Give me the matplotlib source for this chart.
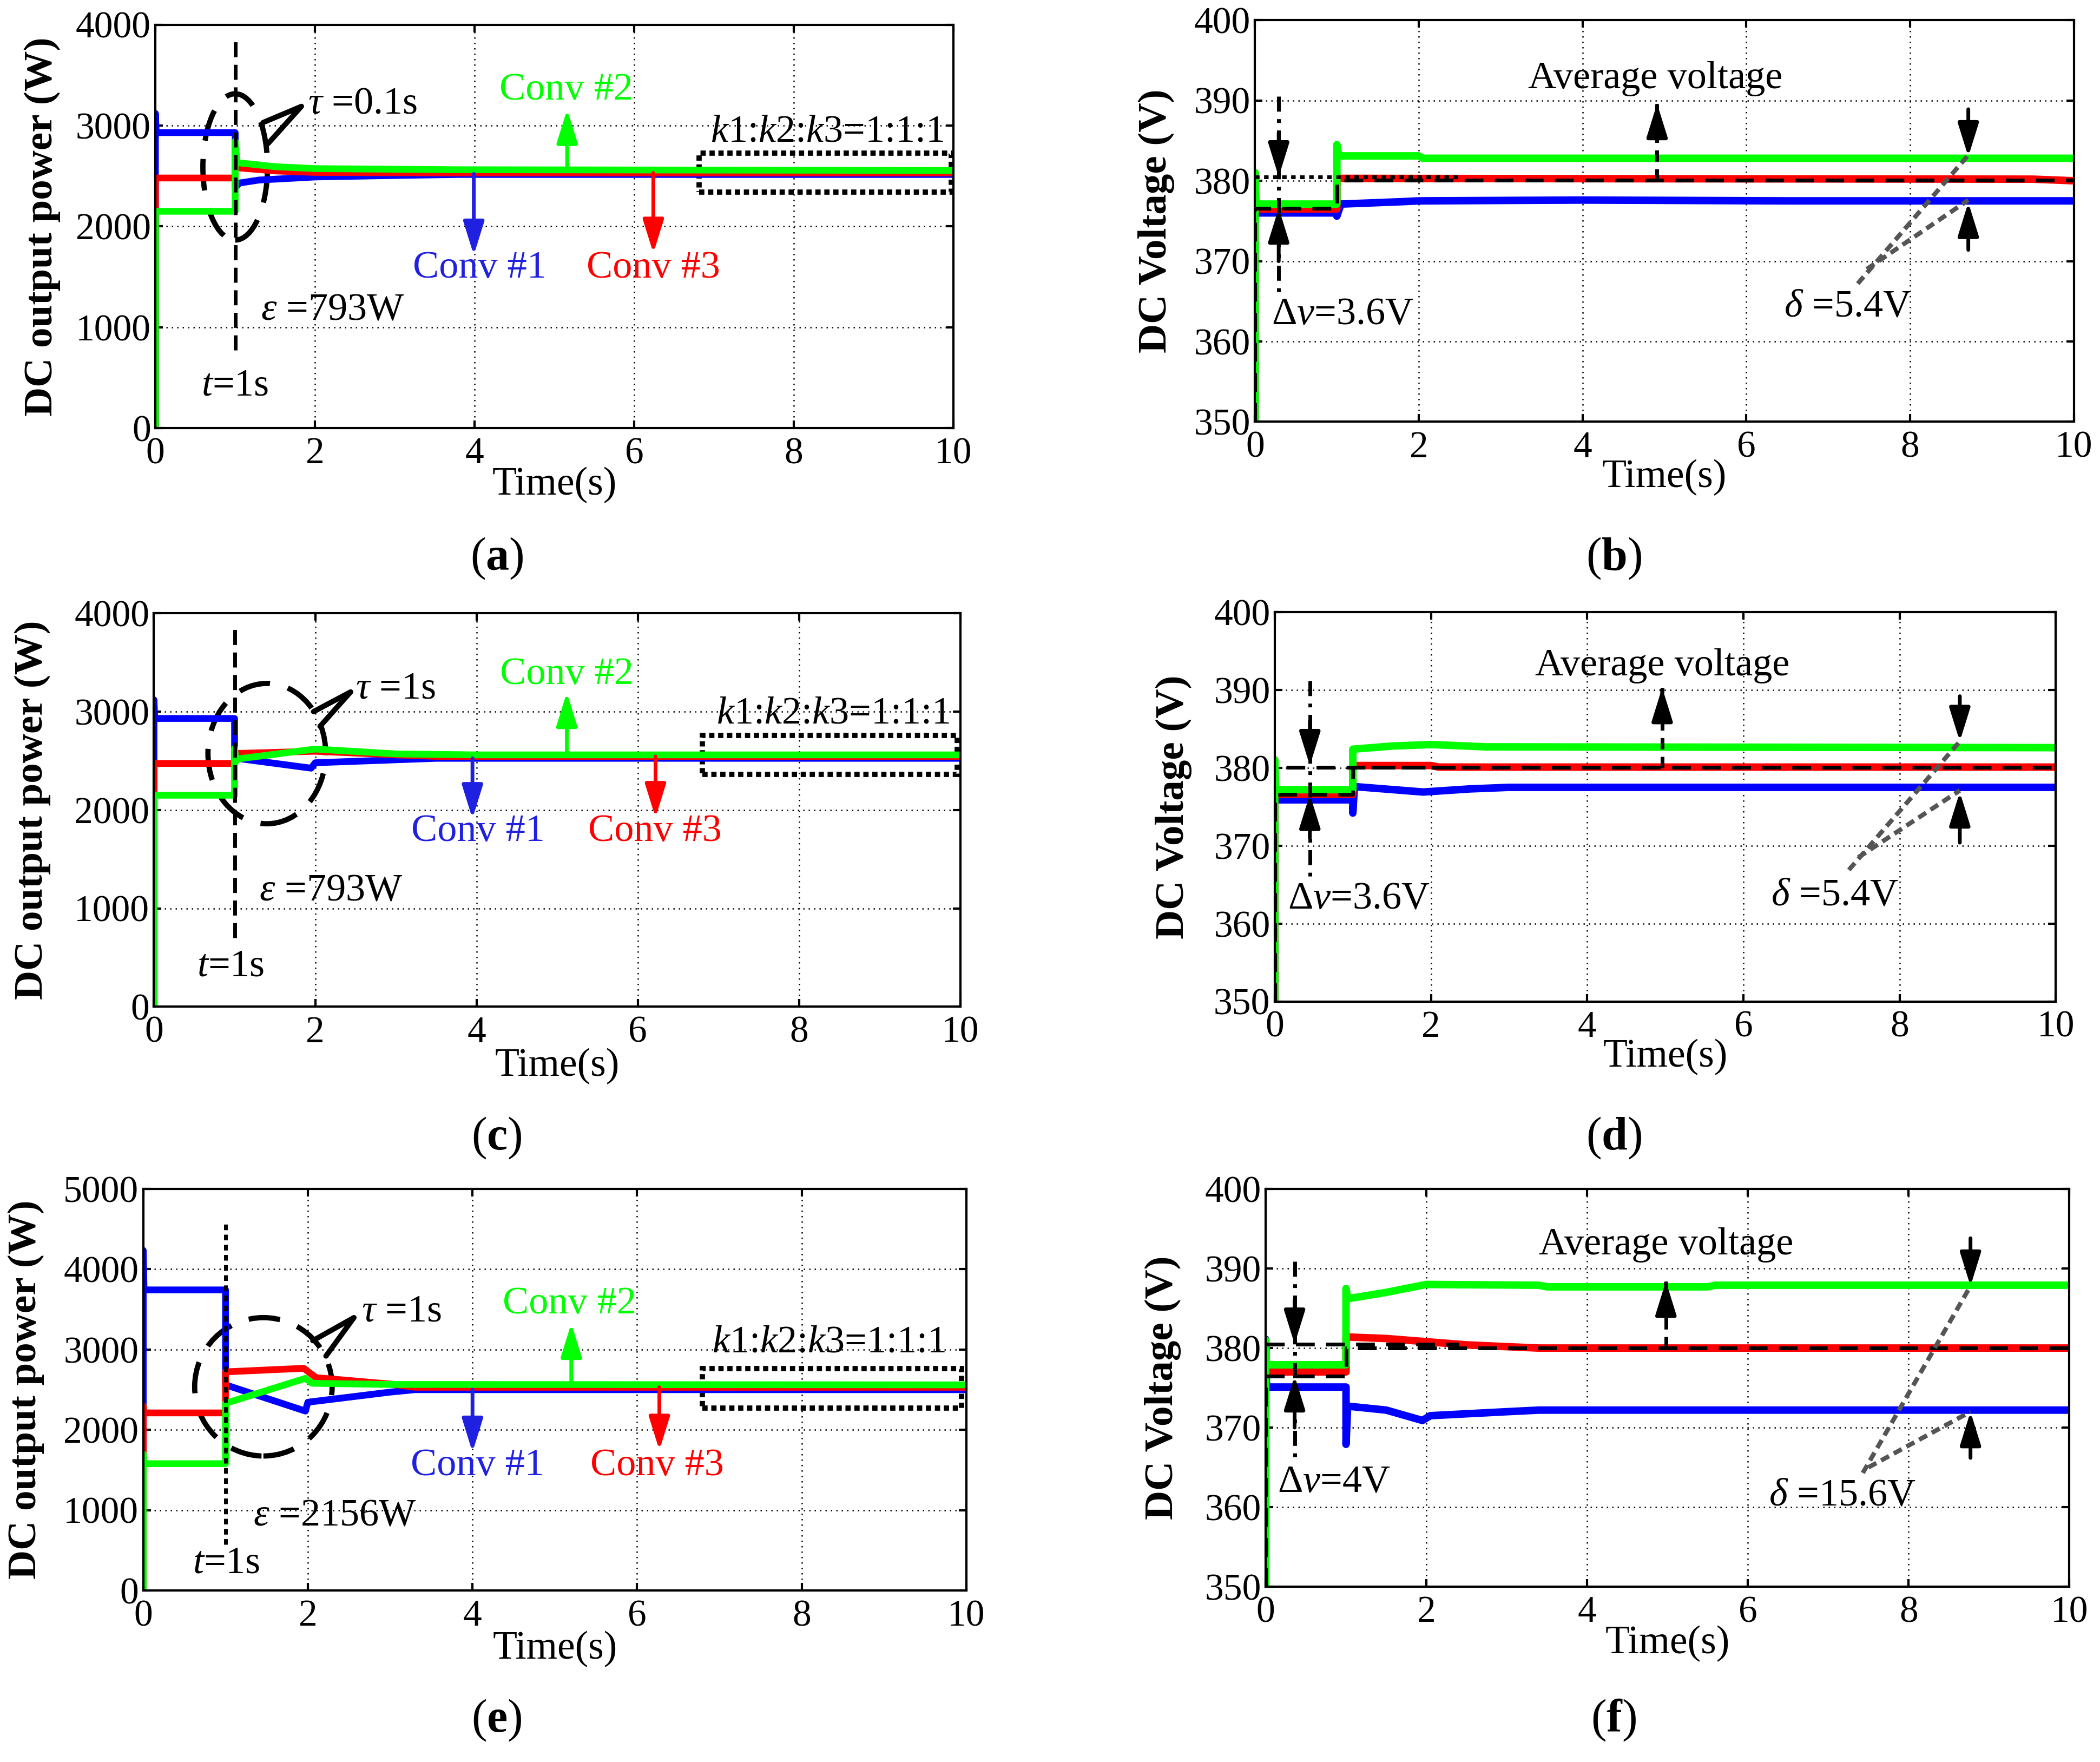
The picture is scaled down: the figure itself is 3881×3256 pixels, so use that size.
import numpy as np
import matplotlib.pyplot as plt
from matplotlib.patches import Ellipse, Rectangle

plt.rcParams['font.family'] = 'Liberation Serif'
plt.rcParams['mathtext.fontset'] = 'custom'
plt.rcParams['mathtext.rm'] = 'Liberation Serif'
plt.rcParams['mathtext.it'] = 'Liberation Serif:italic'
plt.rcParams['mathtext.bf'] = 'Liberation Serif:bold'

# ---------------- data ----------------
# (a) power, tau = 0.1 s
a_t1 = [0, 0, 0.01, 1.0, 1.0, 1.05, 1.3, 2.0, 3.0, 3.8, 10]
a_p1 = [0, 3120, 2930, 2930, 2380, 2430, 2460, 2490, 2505, 2515, 2515]
a_t3 = [0, 0, 1.0, 1.0, 1.05, 1.5, 2.0, 3.8, 10]
a_p3 = [0, 2480, 2480, 2590, 2580, 2550, 2535, 2530, 2530]
a_t2 = [0, 0, 1.0, 1.0, 1.02, 1.05, 1.5, 2.0, 3.8, 10]
a_p2 = [0, 2150, 2150, 2845, 2650, 2630, 2592, 2573, 2562, 2555]

# (c) power, tau = 1 s
c_t1 = [0, 0, 0.01, 1.0, 1.0, 1.95, 2.0, 3.0, 3.5, 10]
c_p1 = [0, 3120, 2930, 2930, 2528, 2425, 2480, 2510, 2525, 2525]
c_t3 = [0, 0, 1.0, 1.0, 1.05, 2.0, 3.0, 3.5, 10]
c_p3 = [0, 2473, 2473, 2560, 2575, 2597, 2560, 2545, 2545]
c_t2 = [0, 0, 1.0, 1.0, 1.02, 1.05, 2.0, 3.0, 4.0, 10]
c_p2 = [0, 2150, 2150, 2626, 2498, 2520, 2619, 2570, 2560, 2560]

# (e) power, tau = 1 s, larger mismatch
e_t1 = [0, 0, 0.01, 1.0, 1.0, 1.97, 2.0, 3.0, 3.3, 10]
e_p1 = [0, 4234, 3742, 3742, 2560, 2234, 2344, 2470, 2500, 2500]
e_t3 = [0, 0, 0.01, 1.0, 1.0, 1.95, 2.1, 3.0, 3.3, 10]
e_p3 = [0, 2300, 2211, 2211, 2722, 2766, 2650, 2570, 2530, 2530]
e_t2 = [0, 0, 0.01, 1.0, 1.0, 1.97, 2.05, 3.0, 10]
e_p2 = [0, 1700, 1579, 1579, 2330, 2641, 2580, 2565, 2560]

# (b) voltage
b_t1 = [0, 0, 0.01, 1.0, 1.0, 1.05, 1.8, 2.0, 4.0, 6.5, 10]
b_v1 = [350, 381, 376.0, 376.0, 375.6, 377.1, 377.4, 377.5, 377.6, 377.5, 377.5]
b_t3 = [0, 0, 0.01, 1.0, 1.0, 1.05, 9.5, 10]
b_v3 = [350, 381, 376.5, 376.5, 380.4, 380.3, 380.2, 380.0]
b_t2 = [0, 0, 0.01, 1.0, 1.0, 1.02, 1.05, 2.0, 2.05, 10]
b_v2 = [350, 381, 377.1, 377.1, 384.5, 383.3, 383.1, 383.1, 382.8, 382.8]
b_avg = [350, 376.6, 376.6, 380.1, 380.1]
b_ref = 380.5

# (d) voltage
d_t1 = [0, 0, 0.01, 1.0, 1.0, 1.02, 1.9, 2.5, 3.0, 10]
d_v1 = [350, 381, 375.9, 375.9, 374.2, 377.6, 376.9, 377.3, 377.5, 377.5]
d_t3 = [0, 0, 0.01, 1.0, 1.0, 2.0, 2.1, 10]
d_v3 = [350, 381, 376.6, 376.6, 380.3, 380.3, 380.1, 380.1]
d_t2 = [0, 0, 0.01, 1.0, 1.0, 1.5, 2.0, 2.7, 10]
d_v2 = [350, 381, 377.2, 377.2, 382.4, 382.8, 383.0, 382.7, 382.6]
d_avg = [350, 376.6, 376.6, 380.1, 380.1]
d_ref = 380.1

# (f) voltage
f_t1 = [0, 0, 0.01, 1.0, 1.0, 1.02, 1.5, 1.95, 2.05, 3.0, 3.4, 10]
f_v1 = [350, 381.1, 375.1, 375.1, 367.9, 372.7, 372.2, 370.9, 371.5, 372.0, 372.2, 372.2]
f_t3 = [0, 0, 0.01, 1.0, 1.0, 1.5, 2.0, 2.5, 3.4, 10]
f_v3 = [350, 381, 377.0, 377.0, 381.4, 381.2, 380.8, 380.4, 380.0, 380.0]
f_t2 = [0, 0, 0.01, 1.0, 1.0, 1.02, 1.5, 2.0, 3.4, 3.5, 5.5, 5.6, 10]
f_v2 = [350, 381, 377.9, 377.9, 387.5, 386.2, 387.0, 388.0, 387.9, 387.7, 387.7, 387.9, 387.9]
f_avg = [350, 376.5, 376.5, 380.0, 380.0]
f_ref = 380.5

avg_t = [0, 0, 1.0, 1.0, 10]

BLUE, RED, GREEN = '#0000ff', '#ff0000', '#00ff00'
TXT_BLUE = '#2020e0'
FS = 52

fig = plt.figure(figsize=(38.81, 32.56), dpi=100)


def style(ax, ylim, yticks, xlab_y, ylab_x, ylabel):
    ax.set_xlim(0, 10)
    ax.set_ylim(*ylim)
    ax.set_xticks(range(0, 11, 2))
    ax.set_yticks(yticks)
    ax.grid(True, color='k', lw=1.8, ls=(0, (1, 3)))
    ax.tick_params(direction='in', length=10, width=3, top=True, right=True,
                   labelsize=50)
    ax.tick_params(axis='y', pad=6)
    ax.tick_params(axis='x', pad=12)
    for s in ax.spines.values():
        s.set_linewidth(3)
    ax.set_xlabel('Time(s)', fontsize=53)
    ax.xaxis.set_label_coords(0.5, xlab_y)
    ax.set_ylabel(ylabel, fontsize=54, fontweight='bold')
    ax.yaxis.set_label_coords(ylab_x, 0.5)


def arrow(ax, x0, y0, x1, y1, color='k', lw=5):
    ax.annotate('', xy=(x1, y1), xytext=(x0, y0),
                arrowprops=dict(arrowstyle='-|>,head_length=0.9,head_width=0.28',
                                color=color, lw=lw, shrinkA=0, shrinkB=0,
                                mutation_scale=42))


def power_panel(ax, t1, p1, t3, p3, t2, p2, ann):
    ax.plot(t1, p1, color=BLUE, lw=9)
    ax.plot(t3, p3, color=RED, lw=9)
    ax.plot(t2, p2, color=GREEN, lw=9)
    # t = 1 s marker
    ax.plot([1, 1], ann['vline'], color='k', lw=5, ls=ann['vls'])
    cx, cy, w, h = ann['ell']
    ax.add_patch(Ellipse((cx, cy), w, h, fill=False, ec='k', lw=7,
                         ls=(0, (6, 3.5))))
    tx, ty = ann['tail']
    ax.plot(tx, ty, color='k', lw=7, solid_capstyle='round')
    ax.text(*ann['tau'][:2], ann['tau'][2], fontsize=FS, ha='center', va='center')
    # converter labels
    x2, y2 = ann['c2']
    ax.text(x2, y2, 'Conv #2', color=GREEN, fontsize=FS, ha='center', va='center')
    arrow(ax, ann['a2'][0], ann['a2'][1], ann['a2'][0], ann['a2'][2], GREEN)
    x1, y1 = ann['c1']
    ax.text(x1, y1, 'Conv #1', color=TXT_BLUE, fontsize=FS, ha='center', va='center')
    arrow(ax, ann['a1'][0], ann['a1'][1], ann['a1'][0], ann['a1'][2], TXT_BLUE)
    x3, y3 = ann['c3']
    ax.text(x3, y3, 'Conv #3', color=RED, fontsize=FS, ha='center', va='center')
    arrow(ax, ann['a3'][0], ann['a3'][1], ann['a3'][0], ann['a3'][2], RED)
    bx0, bx1, by0, by1 = ann['box']
    ax.add_patch(Rectangle((bx0, by0), bx1 - bx0, by1 - by0, fill=False, ec='k',
                           lw=7, ls=(0, (1.0, 0.7)), clip_on=False))
    ax.text(*ann['k'], r'$k$1:$k$2:$k$3=1:1:1', fontsize=FS, ha='center', va='center')
    ax.text(*ann['eps'][:2], ann['eps'][2], fontsize=FS, ha='center', va='center')
    ax.text(*ann['t'], r'$t$=1s', fontsize=FS, ha='center', va='center')


def volt_panel(ax, t1, v1, t3, v3, t2, v2, avg, ref, ann):
    ax.plot(t1, v1, color=BLUE, lw=10)
    ax.plot(t3, v3, color=RED, lw=10)
    ax.plot(t2, v2, color=GREEN, lw=10)
    ax.plot(avg_t, avg, color='k', lw=5, ls=(0, (5, 3)))
    ax.plot(ann['ref_t'], [ref, ref], color='k', lw=5, ls=ann['ref_ls'])
    # delta v marker
    dx, dtop, dbot = ann['dv_line']
    ax.plot([dx, dx], [dtop, dbot], color='k', lw=5, ls=(0, (4, 2, 1, 2)))
    arrow(ax, dx, ann['dv_dn'][0], dx, ann['dv_dn'][1])
    arrow(ax, dx, ann['dv_up'][0], dx, ann['dv_up'][1])
    ax.text(*ann['dv_txt'][:2], ann['dv_txt'][2], fontsize=FS, ha='center', va='center')
    # average voltage
    ax.text(*ann['avg_txt'], 'Average voltage', fontsize=FS, ha='center', va='center')
    ax.plot([ann['avg_arr'][0]] * 2, ann['avg_arr'][1:], color='k', lw=5,
            ls=(0, (3, 2)))
    arrow(ax, ann['avg_arr'][0], ann['avg_arr'][2] - 0.3, ann['avg_arr'][0],
          ann['avg_arr'][2])
    # spread delta
    sx = ann['sx']
    arrow(ax, sx, ann['s_dn'][0], sx, ann['s_dn'][1])
    arrow(ax, sx, ann['s_up'][0], sx, ann['s_up'][1])
    for (x0, y0, y1) in ann['gray']:
        ax.plot([x0, sx], [y0, y1], color='#555555', lw=6, ls=(0, (2, 1.2)))
    ax.text(*ann['d_txt'][:2], ann['d_txt'][2], fontsize=FS, ha='center', va='center')


# ---------------- panel (a) ----------------
ax_a = fig.add_axes([0.074, 0.757, 0.380, 0.229])
power_panel(ax_a, a_t1, a_p1, a_t3, a_p3, a_t2, a_p2, dict(
    vline=[776, 3841], vls=(0, (4, 2)),
    ell=(1.0, 2590, 0.81, 1450),
    tail=([1.35, 1.83, 1.41], [3030, 3190, 2820]),
    tau=(2.6, 3217, r'$\tau$ =0.1s'),
    c2=(5.15, 3350), a2=(5.16, 2560, 3160),
    c1=(4.06, 1586), a1=(3.99, 2520, 1715),
    c3=(6.24, 1586), a3=(6.24, 2530, 1734),
    box=(6.81, 9.97, 2339, 2725),
    k=(8.42, 2933),
    eps=(2.22, 1173, r'$\varepsilon$ =793W'),
    t=(1.0, 417)))
style(ax_a, (0, 4000), range(0, 4001, 1000), -0.096, -0.119, 'DC output power (W)')

# ---------------- panel (c) ----------------
ax_c = fig.add_axes([0.0733, 0.4286, 0.384, 0.2234])
power_panel(ax_c, c_t1, c_p1, c_t3, c_p3, c_t2, c_p2, dict(
    vline=[700, 3890], vls=(0, (4, 2)),
    ell=(1.40, 2573, 1.46, 1426),
    tail=([1.98, 2.44, 2.06], [3000, 3200, 2850]),
    tau=(3.0, 3230, r'$\tau$ =1s'),
    c2=(5.12, 3377), a2=(5.12, 2560, 3194),
    c1=(4.02, 1784), a1=(3.95, 2525, 1912),
    c3=(6.21, 1784), a3=(6.22, 2545, 1923),
    box=(6.80, 9.96, 2363, 2755),
    k=(8.42, 2975),
    eps=(2.2, 1180, r'$\varepsilon$ =793W'),
    t=(0.95, 410)))
style(ax_c, (0, 4000), range(0, 4001, 1000), -0.105, -0.128, 'DC output power (W)')

# ---------------- panel (e) ----------------
ax_e = fig.add_axes([0.0682, 0.0973, 0.392, 0.228])
power_panel(ax_e, e_t1, e_p1, e_t3, e_p3, e_t2, e_p2, dict(
    vline=[574, 4569], vls=(0, (1.5, 1.2)),
    ell=(1.46, 2536, 1.67, 1722),
    tail=([2.06, 2.56, 2.22], [3110, 3397, 2919]),
    tau=(3.14, 3469, r'$\tau$ =1s'),
    c2=(5.18, 3565), a2=(5.2, 2560, 3325),
    c1=(4.06, 1555), a1=(4.0, 2500, 1722),
    c3=(6.24, 1555), a3=(6.27, 2530, 1746),
    box=(6.79, 9.94, 2273, 2766),
    k=(8.33, 3086),
    eps=(2.33, 933, r'$\varepsilon$ =2156W'),
    t=(1.01, 335)))
style(ax_e, (0, 5000), range(0, 5001, 1000), -0.1, -0.12, 'DC output power (W)')

# ---------------- panel (b) ----------------
ax_b = fig.add_axes([0.5976, 0.7606, 0.390, 0.228])
volt_panel(ax_b, b_t1, b_v1, b_t3, b_v3, b_t2, b_v2, b_avg, b_ref, dict(
    ref_t=[0, 2.5], ref_ls=(0, (1.2, 1.2)),
    dv_line=(0.29, 390.5, 365.3), dv_dn=(386, 380.5), dv_up=(370, 376.6),
    dv_txt=(1.07, 363.4, r'$\Delta v$=3.6V'),
    avg_txt=(4.89, 392.7), avg_arr=(4.91, 380.1, 389.6),
    sx=8.71, s_dn=(388.9, 383.0), s_up=(371.4, 377.3),
    gray=[(7.36, 367.2, 383.2), (7.47, 369.0, 377.6)],
    d_txt=(7.24, 364.3, r'$\delta$ =5.4V')))
style(ax_b, (350, 400), range(350, 401, 10), -0.093, -0.098, 'DC Voltage (V)')

# ---------------- panel (d) ----------------
ax_d = fig.add_axes([0.607, 0.4316, 0.372, 0.221])
volt_panel(ax_d, d_t1, d_v1, d_t3, d_v3, d_t2, d_v2, d_avg, d_ref, dict(
    ref_t=[0.15, 2.5], ref_ls=(0, (5, 3)),
    dv_line=(0.45, 391.2, 366.0), dv_dn=(386, 380.3), dv_up=(371, 376.6),
    dv_txt=(1.08, 363.2, r'$\Delta v$=3.6V'),
    avg_txt=(4.96, 393.1), avg_arr=(4.96, 380.0, 390.3),
    sx=8.77, s_dn=(389.2, 383.4), s_up=(370.4, 376.9),
    gray=[(7.35, 366.9, 383.4), (7.47, 368.5, 377.1)],
    d_txt=(7.17, 363.6, r'$\delta$ =5.4V')))
style(ax_d, (350, 400), range(350, 401, 10), -0.096, -0.106, 'DC Voltage (V)')

# ---------------- panel (f) ----------------
ax_f = fig.add_axes([0.6027, 0.0995, 0.3827, 0.2257])
volt_panel(ax_f, f_t1, f_v1, f_t3, f_v3, f_t2, f_v2, f_avg, f_ref, dict(
    ref_t=[0.0, 2.4], ref_ls=(0, (5, 3)),
    dv_line=(0.36, 390.9, 365.7), dv_dn=(386, 380.5), dv_up=(370, 376.5),
    dv_txt=(0.85, 363.1, r'$\Delta v$=4V'),
    avg_txt=(4.98, 393.0), avg_arr=(4.98, 380.0, 388.4),
    sx=8.77, s_dn=(393.8, 387.8), s_up=(366.2, 372.0),
    gray=[(7.43, 364.3, 387.8), (7.5, 365.0, 372.0)],
    d_txt=(7.18, 361.4, r'$\delta$ =15.6V')))
style(ax_f, (350, 400), range(350, 401, 10), -0.098, -0.105, 'DC Voltage (V)')

# panel letters
for x, y, s in [(0.2366, 0.683, 'a'), (0.7685, 0.683, 'b'),
                (0.2366, 0.354, 'c'), (0.7685, 0.354, 'd'),
                (0.2366, 0.0236, 'e'), (0.7685, 0.0236, 'f')]:
    fig.text(x, y, r'($\mathbf{%s}$)' % s, fontsize=62, ha='center', va='center')

fig.savefig('out.png', dpi=100)
